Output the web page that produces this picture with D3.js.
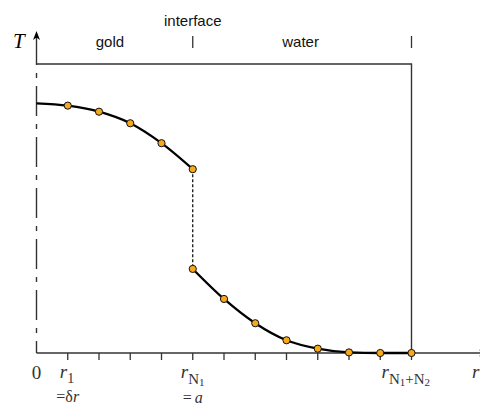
<!DOCTYPE html>
<html>
<head>
<meta charset="utf-8">
<script src="https://cdn.jsdelivr.net/npm/d3@7"></script>
<style>
  body { margin: 0; background: #fff; }
  svg { display: block; }
</style>
</head>
<body>
<script>
const w = 480, h = 405;

// temperature profile (arbitrary units), grid index i -> r_i
const goldR = [0, 1, 2, 3, 4, 5];
const goldT = [0.864, 0.856, 0.835, 0.795, 0.726, 0.636];
const waterR = [5, 6, 7, 8, 9, 10, 11, 12];
const waterT = [0.291, 0.187, 0.103, 0.044, 0.015, 0.002, 0, 0];
const tickIdx = [1, 2, 3, 4, 5, 6, 7, 8, 9, 10, 11, 12];
const regionLabels = ["gold", "water"];

const x = d3.scaleLinear().domain([0, 12]).range([36.5, 411.5]);
const y = d3.scaleLinear().domain([0, 1]).range([353, 64]);

const svg = d3.select("body").append("svg")
    .attr("width", w)
    .attr("height", h);

const ink = "#333";
const sans = "Liberation Sans, Arial, sans-serif";
const serif = "Liberation Serif, Times New Roman, serif";

// y axis: solid part above the box, dash-dot inside
svg.append("line")
    .attr("x1", x(0)).attr("x2", x(0))
    .attr("y1", y(1)).attr("y2", 36)
    .attr("stroke", ink).attr("stroke-width", 1.4);
svg.append("path")
    .attr("d", `M${x(0)},31 L${x(0) - 3.5},40 L${x(0)},37.5 L${x(0) + 3.5},40 Z`)
    .attr("fill", "#000");
svg.append("line")
    .attr("x1", x(0)).attr("x2", x(0))
    .attr("y1", y(1)).attr("y2", y(0))
    .attr("stroke", ink).attr("stroke-width", 1.4)
    .attr("stroke-dasharray", "5,8,30,8")
    .attr("stroke-dashoffset", 42);

// x axis
svg.append("line")
    .attr("x1", x(0)).attr("x2", 484)
    .attr("y1", y(0)).attr("y2", y(0))
    .attr("stroke", ink).attr("stroke-width", 1.4);
svg.append("path")
    .attr("d", `M488,${y(0)} L479,${y(0) - 3.5} L481.5,${y(0)} L479,${y(0) + 3.5} Z`)
    .attr("fill", ink);

svg.selectAll(".tick")
    .data(tickIdx)
    .enter().append("line")
    .attr("class", "tick")
    .attr("x1", d => x(d)).attr("x2", d => x(d))
    .attr("y1", y(0)).attr("y2", y(0) + 7)
    .attr("stroke", ink).attr("stroke-width", 1.3);

// box: top and right edge
svg.append("path")
    .attr("d", `M${x(0)},${y(1)} H${x(12)} V${y(0)}`)
    .attr("fill", "none")
    .attr("stroke", ink).attr("stroke-width", 1.4);

// region markers above the box
svg.selectAll(".mark")
    .data([5, 12])
    .enter().append("line")
    .attr("class", "mark")
    .attr("x1", d => x(d)).attr("x2", d => x(d))
    .attr("y1", 36).attr("y2", 48)
    .attr("stroke", ink).attr("stroke-width", 1.3);

svg.selectAll(".region")
    .data(regionLabels)
    .enter().append("text")
    .attr("class", "region")
    .attr("x", (d, i) => i === 0 ? x(2.35) : x(8.45))
    .attr("y", 47)
    .attr("text-anchor", "middle")
    .attr("font-family", sans)
    .attr("font-size", "15px")
    .attr("fill", "#111")
    .text(d => d);

svg.append("text")
    .attr("x", x(5)).attr("y", 26)
    .attr("text-anchor", "middle")
    .attr("font-family", sans)
    .attr("font-size", "15px")
    .attr("fill", "#111")
    .text("interface");

// T label
svg.append("text")
    .attr("x", 13).attr("y", 48)
    .attr("font-family", serif)
    .attr("font-style", "italic")
    .attr("font-size", "21px")
    .attr("fill", "#000")
    .text("T");

// temperature curves
const line = d3.line()
    .x(d => x(d[0]))
    .y(d => y(d[1]))
    .curve(d3.curveMonotoneX);

const gold = goldR.map((r, i) => [r, goldT[i]]);
const water = waterR.map((r, i) => [r, waterT[i]]);

svg.append("line")
    .attr("x1", x(5)).attr("x2", x(5))
    .attr("y1", y(goldT[5])).attr("y2", y(waterT[0]))
    .attr("stroke", "#000").attr("stroke-width", 1.2)
    .attr("stroke-dasharray", "3,2");

[gold, water].forEach(seg => {
    svg.append("path")
        .datum(seg)
        .attr("d", line)
        .attr("fill", "none")
        .attr("stroke", "#000")
        .attr("stroke-width", 2.3);
});

const dots = gold.filter(d => d[0] > 0).concat(water);
svg.selectAll(".dot")
    .data(dots)
    .enter().append("circle")
    .attr("class", "dot")
    .attr("cx", d => x(d[0]))
    .attr("cy", d => y(d[1]))
    .attr("r", 3.6)
    .attr("fill", "#f8a81c")
    .attr("stroke", "#111")
    .attr("stroke-width", 1);

// axis labels
const lab = svg.append("g")
    .attr("font-family", serif)
    .attr("fill", "#333");

lab.append("text")
    .attr("x", x(0)).attr("y", 379)
    .attr("text-anchor", "middle")
    .attr("font-size", "19px")
    .text("0");

function rLabel(xi, subs) {
    const t = lab.append("text")
        .attr("x", xi).attr("y", 378)
        .attr("font-size", "19px");
    t.append("tspan").attr("font-style", "italic").text("r");
    subs.forEach(s => {
        t.append("tspan")
            .attr("dy", s.dy)
            .attr("font-size", s.size)
            .text(s.t);
    });
}

rLabel(x(1) - 8, [{ t: "1", dy: 5, size: "14px" }]);
rLabel(x(5) - 12, [
    { t: "N", dy: 6, size: "15px" },
    { t: "1", dy: 2, size: "11px" }
]);
rLabel(x(12) - 30, [
    { t: "N", dy: 6, size: "15px" },
    { t: "1", dy: 2, size: "11px" },
    { t: "+N", dy: -2, size: "15px" },
    { t: "2", dy: 2, size: "11px" }
]);

lab.append("text")
    .attr("x", 472).attr("y", 378)
    .attr("font-size", "19px")
    .attr("font-style", "italic")
    .text("r");

const eq1 = lab.append("text")
    .attr("x", x(1)).attr("y", 402)
    .attr("text-anchor", "middle")
    .attr("font-size", "16px");
eq1.append("tspan").text("=δ");
eq1.append("tspan").attr("font-style", "italic").text("r");

const eq2 = lab.append("text")
    .attr("x", x(5)).attr("y", 403)
    .attr("text-anchor", "middle")
    .attr("font-size", "16px");
eq2.append("tspan").text("=");
eq2.append("tspan").attr("font-style", "italic").attr("dx", 3).text("a");
</script>
</body>
</html>
